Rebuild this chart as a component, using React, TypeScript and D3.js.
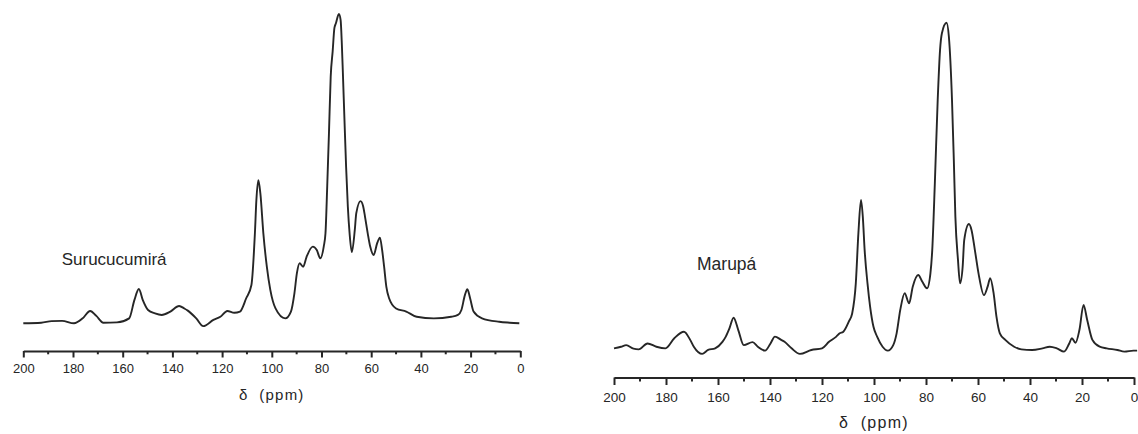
import { useEffect, useRef } from 'react'
import * as d3 from 'd3'

// chemical shift (ppm) and intensity (% of the tallest peak)
const surucucumiraPpm = [200, 192.8, 188.6, 184.4, 179.6, 176.1, 173.1, 170.6, 167.8, 162.3, 157.4, 155.3, 153.5, 151.9, 149.8, 147, 144.3, 140.8, 137.3, 135.2, 133.8, 130.4, 127.6, 123.5, 120.7, 117.9, 115.1, 112.8, 110.3, 108.2, 106.8, 106.2, 105.4, 104.6, 103.4, 102, 100.6, 98.5, 94.6, 92.3, 90.9, 89.9, 88.8, 87.4, 86, 83.5, 81.9, 80.5, 79.1, 78.4, 77.7, 77, 76.3, 75.5, 74.8, 74.2, 73, 72.3, 71.8, 71.4, 70.8, 70.1, 69.4, 68.7, 67.8, 66.6, 66, 64.3, 63.2, 62.5, 61.4, 60.4, 59, 57.6, 56.5, 55.6, 54.8, 53.9, 52.8, 50, 45.9, 41.7, 34.8, 27.8, 25.1, 23.7, 22.3, 21.3, 20.2, 18.8, 15.4, 8.5, 4.3, 0.4]
const surucucumiraInt = [0, 0.2, 0.7, 0.8, 0, 1.6, 4, 2.4, 0.2, 0.3, 1.6, 7.5, 11.1, 7.5, 4.3, 3.2, 2.7, 3.8, 5.6, 4.8, 4.1, 1.6, -0.9, 1.1, 2.1, 4, 3.4, 3.8, 8.1, 12.4, 29.1, 39.9, 46.3, 42, 29.1, 18.3, 10.8, 4.8, 1.6, 3.8, 9.7, 16.2, 19.4, 18.3, 21.5, 24.8, 23.7, 21, 24.8, 29.1, 44.2, 61.4, 79.7, 88, 95.5, 97, 100, 98, 90, 81, 66.8, 50.6, 37.7, 29.1, 23, 30.2, 35.6, 39.5, 37.7, 34.5, 29.1, 24.8, 22.1, 25.9, 27.7, 23.7, 18.3, 11.8, 8.1, 4.8, 3.8, 2.1, 1.6, 2.1, 2.7, 4.3, 9.1, 11, 8.1, 3.8, 1.6, 0.5, 0.2, 0]

const marupaPpm = [200, 197.3, 195.3, 192.5, 190.5, 187.1, 183.7, 180.2, 176.8, 173.1, 170.7, 169.3, 166.1, 163.8, 161.1, 158.3, 157, 155.6, 154, 152.2, 150.1, 146.7, 144.7, 141.9, 139.8, 138.1, 135.7, 134.4, 131.7, 128.5, 124.1, 120, 117.3, 114.5, 113.2, 111.8, 109.7, 108.4, 107, 106, 105, 104.3, 103.6, 102.5, 101.5, 100.2, 98.8, 96.7, 94.7, 92.6, 91.3, 89.9, 88.2, 86.5, 85.1, 83, 81.4, 79.6, 78.3, 77.6, 76.6, 75.5, 74.6, 73.9, 72.1, 71.2, 70, 69.3, 68.7, 67.7, 66.9, 65.9, 65.3, 63.5, 62.5, 61.2, 59.8, 57.7, 56.3, 55.3, 54, 52.9, 51.6, 49.5, 46.1, 43.3, 39.2, 35.2, 32.4, 29.7, 26.9, 24.9, 23.9, 22.5, 21, 19.4, 18, 16, 13.2, 10.5, 6.4, 3.7, 0.2, -1.2]
const marupaInt = [0.2, 0.7, 1.2, 0.1, -0.1, 1.7, 0.7, 0.2, 3.3, 5.3, 2.8, 0.7, -1.5, -0.3, 0.2, 2.2, 3.8, 6.3, 9.6, 5.8, 1.2, 2.1, 0.7, -0.5, 1.7, 3.8, 2.8, 2.2, 0.2, -1.5, -0.3, 0.2, 2.2, 3.8, 4.8, 5.3, 8.4, 10.9, 20.1, 35.5, 45.7, 40.5, 30.3, 20.1, 13, 6.8, 3.8, 0.7, -0.5, 1.2, 4.8, 12, 17.1, 14, 19.1, 22.7, 20.6, 18.6, 23.2, 30.3, 50.8, 76.3, 91.6, 96.7, 100, 95.7, 76.3, 57.9, 40.5, 27.3, 20.1, 25.2, 33.4, 38.3, 36.5, 30.3, 23.2, 16.5, 19.1, 21.7, 17.1, 9.9, 4.8, 2.8, 0.7, -0.1, -0.3, 0.2, 0.7, 0.2, -0.8, 1.7, 3.3, 1.9, 5.8, 13.5, 8.9, 2.8, 0.7, 0.2, -0.3, -0.8, -0.5, -0.5]

const majorTicks = [200, 180, 160, 140, 120, 100, 80, 60, 40, 20, 0]
const minorTicks = [190, 170, 150, 130, 110, 90, 70, 50, 30, 10]
const axisTitle = 'δ  (ppm)'

const FONT = '"Liberation Sans", Arial, Helvetica, sans-serif'
const INK = '#262626'

const panels = [
  {
    label: 'Surucucumirá', ppm: surucucumiraPpm, inten: surucucumiraInt,
    x0: 23.3, x1: 520.3, baseY: 323.3, topY: 14, axisY: 351,
    major: 6.5, minor: 3.3, tickFont: 13, tickPad: 6.6,
    titleY: 400, titleFont: 15, titleSpacing: 1.2,
    labelX: 61.7, labelY: 265, labelFont: 17,
  },
  {
    label: 'Marupá', ppm: marupaPpm, inten: marupaInt,
    x0: 614, x1: 1134, baseY: 349, topY: 22.7, axisY: 377.5,
    major: 7.5, minor: 4, tickFont: 13.5, tickPad: 7.4,
    titleY: 428, titleFont: 16, titleSpacing: 1.3,
    labelX: 697, labelY: 270, labelFont: 17.5,
  },
]

const App = () => {
  const chart = useRef<SVGSVGElement>(null)

  useEffect(() => {
    const svg = d3.select(chart.current)
    svg.selectAll('*').remove()

    svg.append('rect').attr('width', 1138).attr('height', 434).attr('fill', '#fff')

    panels.forEach(p => {
      const x = d3.scaleLinear().domain([200, 0]).range([p.x0, p.x1])
      const y = d3.scaleLinear().domain([0, 100]).range([p.baseY, p.topY])
      const g = svg.append('g')

      // spectrum
      const line = d3.line<[number, number]>()
        .x(d => x(d[0]))
        .y(d => y(d[1]))
        .curve(d3.curveMonotoneX)
      g.append('path')
        .datum(d3.zip(p.ppm, p.inten) as [number, number][])
        .attr('d', line)
        .attr('fill', 'none')
        .attr('stroke', INK)
        .attr('stroke-width', 1.9)
        .attr('stroke-linejoin', 'round')

      // x axis, major ticks with labels
      const ax = g.append('g')
        .attr('transform', `translate(0,${p.axisY})`)
        .call(d3.axisBottom(x)
          .tickValues(majorTicks)
          .tickSize(p.major)
          .tickSizeOuter(0)
          .tickPadding(p.tickPad)
          .tickFormat(d3.format('d')))
      ax.select('.domain').attr('stroke', INK).attr('stroke-width', 2)
      ax.selectAll('.tick line').attr('stroke', INK).attr('stroke-width', 2)
      ax.selectAll('.tick text')
        .attr('fill', INK)
        .attr('font-size', p.tickFont)
        .attr('font-family', FONT)

      // minor ticks
      g.append('g')
        .selectAll('line')
        .data(minorTicks)
        .join('line')
        .attr('x1', d => x(d))
        .attr('x2', d => x(d))
        .attr('y1', p.axisY)
        .attr('y2', p.axisY + p.minor)
        .attr('stroke', INK)
        .attr('stroke-width', 2)

      // axis title
      g.append('text')
        .attr('x', (p.x0 + p.x1) / 2)
        .attr('y', p.titleY)
        .attr('text-anchor', 'middle')
        .attr('font-family', FONT)
        .attr('font-size', p.titleFont)
        .attr('letter-spacing', p.titleSpacing)
        .attr('fill', INK)
        .style('white-space', 'pre')
        .text(axisTitle)

      // sample name
      g.append('text')
        .attr('x', p.labelX)
        .attr('y', p.labelY)
        .attr('font-family', FONT)
        .attr('font-size', p.labelFont)
        .attr('fill', INK)
        .text(p.label)
    })
  }, [])

  return (
    <svg
      ref={chart}
      width={1138}
      height={434}
      style={{ position: 'absolute', left: 0, top: 0 }}
    />
  )
}

export default App
